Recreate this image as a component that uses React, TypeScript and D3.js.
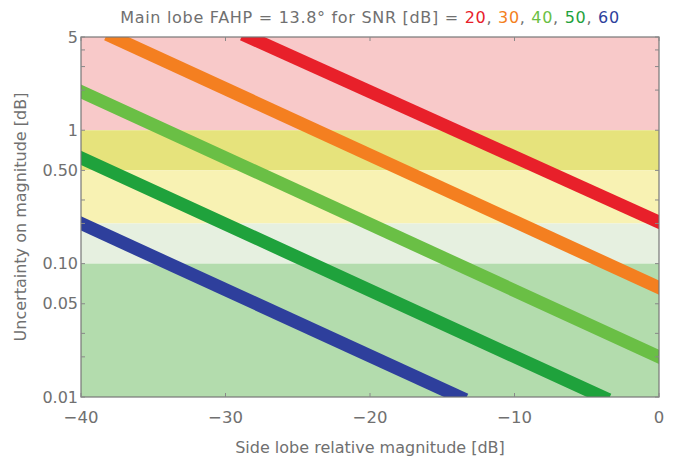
import { useEffect, useRef } from 'react';
import * as d3 from 'd3';

const snrLabels = ['20', '30', '40', '50', '60'];
const snrColors = ['#e8202a', '#f47f20', '#6abf45', '#1fa23c', '#2e3f9c'];
const startX = [-28.4, -37.8, -40, -40, -40];
const startY = [5, 5, 1.95, 0.62, 0.2];
const endX = [0, 0, 0, -3.9, -13.8];
const endY = [0.205, 0.066, 0.02, 0.01, 0.01];

// background quality bands (uncertainty ranges)
const bandLow = [1, 0.5, 0.2, 0.1, 0.01];
const bandHigh = [5, 1, 0.5, 0.2, 0.1];
const bandColors = ['#f8c9c9', '#e6e37c', '#f8f2b3', '#e6f0e0', '#b3dcad'];

const xTicks = [-40, -30, -20, -10, 0];
const yTicks = [0.01, 0.02, 0.03, 0.05, 0.1, 0.2, 0.3, 0.5, 1, 2, 3, 4, 5];
const yLabels: Record<string, string> = { '0.01': '0.01', '0.05': '0.05', '0.1': '0.10', '0.5': '0.50', '1': '1', '5': '5' };

export default function App() {
  const svgRef = useRef<SVGSVGElement>(null);

  useEffect(() => {
    if (!svgRef.current) return;
    const svg = d3.select(svgRef.current);
    svg.selectAll('*').remove();

    const width = 679;
    const height = 461;
    const margin = { top: 37, right: 20, bottom: 64, left: 81 };
    const w = width - margin.left - margin.right;
    const h = height - margin.top - margin.bottom;
    const font = '"DejaVu Sans", sans-serif';
    const grey = '#707070';

    const x = d3.scaleLinear().domain([-40, 0]).range([0, w]);
    const y = d3.scaleLog().domain([0.01, 5]).range([h, 0]);

    svg.append('defs').append('clipPath').attr('id', 'plot-clip')
      .append('rect').attr('width', w).attr('height', h);

    const g = svg.append('g').attr('transform', `translate(${margin.left},${margin.top})`);

    // bands
    g.selectAll('rect.band')
      .data(bandLow)
      .join('rect')
      .attr('class', 'band')
      .attr('x', 0)
      .attr('width', w)
      .attr('y', (_, i) => y(bandHigh[i]))
      .attr('height', (d, i) => y(d) - y(bandHigh[i]))
      .attr('fill', (_, i) => bandColors[i]);

    // SNR lines
    const line = d3.line<[number, number]>()
      .x(d => x(d[0]))
      .y(d => y(d[1]));

    const lines = g.append('g').attr('clip-path', 'url(#plot-clip)');
    snrLabels.forEach((_, i) => {
      lines.append('path')
        .datum([[startX[i], startY[i]], [endX[i], endY[i]]] as [number, number][])
        .attr('d', line)
        .attr('fill', 'none')
        .attr('stroke', snrColors[i])
        .attr('stroke-width', 13)
        .attr('stroke-linecap', 'square');
    });

    // frame
    g.append('rect')
      .attr('width', w)
      .attr('height', h)
      .attr('fill', 'none')
      .attr('stroke', '#777')
      .attr('stroke-width', 1.2);

    // ticks
    const tickCol = '#888';
    xTicks.forEach(t => {
      g.append('line').attr('x1', x(t)).attr('x2', x(t)).attr('y1', h).attr('y2', h - 4).attr('stroke', tickCol);
      g.append('line').attr('x1', x(t)).attr('x2', x(t)).attr('y1', 0).attr('y2', 4).attr('stroke', tickCol);
      g.append('text')
        .attr('x', x(t))
        .attr('y', h + 26)
        .attr('text-anchor', 'middle')
        .attr('font-family', font)
        .attr('font-size', 16.5)
        .attr('fill', grey)
        .text(t < 0 ? `\u2212${Math.abs(t)}` : `${t}`);
    });

    yTicks.forEach(t => {
      g.append('line').attr('x1', 0).attr('x2', 4).attr('y1', y(t)).attr('y2', y(t)).attr('stroke', tickCol);
      g.append('line').attr('x1', w).attr('x2', w - 4).attr('y1', y(t)).attr('y2', y(t)).attr('stroke', tickCol);
      const lab = yLabels[String(t)];
      if (lab) {
        g.append('text')
          .attr('x', -3)
          .attr('y', y(t))
          .attr('dy', '0.35em')
          .attr('text-anchor', 'end')
          .attr('font-family', font)
          .attr('font-size', 16)
          .attr('fill', grey)
          .text(lab);
      }
    });

    // axis titles
    g.append('text')
      .attr('x', w / 2)
      .attr('y', h + 56)
      .attr('text-anchor', 'middle')
      .attr('font-family', font)
      .attr('font-size', 16)
      .attr('fill', grey)
      .text('Side lobe relative magnitude [dB]');

    g.append('text')
      .attr('transform', 'rotate(-90)')
      .attr('x', -h / 2)
      .attr('y', -55)
      .attr('text-anchor', 'middle')
      .attr('font-family', font)
      .attr('font-size', 16)
      .attr('fill', grey)
      .text('Uncertainty on magnitude [dB]');

    // title with coloured SNR values
    const title = svg.append('text')
      .attr('x', margin.left + w / 2)
      .attr('y', 23)
      .attr('text-anchor', 'middle')
      .attr('font-family', font)
      .attr('font-size', 16)
      .attr('letter-spacing', 0.7)
      .attr('fill', grey);
    title.append('tspan').text('Main lobe FAHP = 13.8\u00b0 for SNR [dB] = ');
    snrLabels.forEach((s, i) => {
      title.append('tspan').attr('fill', snrColors[i]).text(s);
      if (i < snrLabels.length - 1) title.append('tspan').attr('fill', grey).text(', ');
    });
  }, []);

  return (
    <div style={{ position: 'absolute', left: 0, top: 0, width: 679, height: 461, background: '#fff' }}>
      <svg ref={svgRef} width={679} height={461} style={{ display: 'block' }} />
    </div>
  );
}
